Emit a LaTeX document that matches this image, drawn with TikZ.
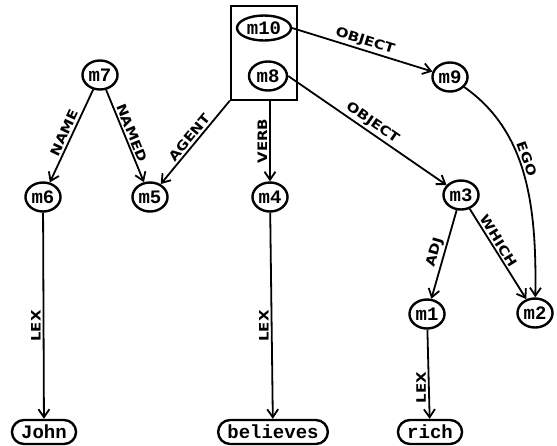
\documentclass[tikz,border=0pt]{standalone}
\usepackage{fontspec}
\newfontfamily\mono{Liberation Mono}
\newfontfamily\hand[FakeStretch=1.15]{DejaVu Sans}
\usetikzlibrary{shapes.geometric,shapes.misc,arrows.meta,fit}
\tikzset{
  mnode/.style={ellipse, draw, line width=2.4pt, inner sep=1pt, minimum width=33pt, minimum height=29pt, font=\mono\bfseries\fontsize{19}{19}\selectfont},
  wnode/.style={rounded rectangle, draw, line width=2.4pt, inner xsep=7pt, inner ysep=2pt, minimum height=24pt, font=\mono\bfseries\fontsize{19}{19}\selectfont},
  rel/.style={line width=1.8pt, -{Straight Barb[length=8pt,width=11pt]}},
  lbl/.style={font=\hand\bfseries\fontsize{13}{13}\selectfont, sloped, above, inner sep=2pt},
  vlbl/.style={font=\hand\bfseries\fontsize{13}{13}\selectfont, rotate=90, above, inner sep=2pt}
}
\begin{document}
\begin{tikzpicture}[x=1pt, y=-1pt]
  \useasboundingbox (0,0) rectangle (557,445);
  \node[mnode, minimum width=54pt, minimum height=25pt] (m10) at (264,28) {m10};
  \node[mnode, minimum width=38pt] (m8) at (268,76) {m8};
  \node[draw, line width=2pt, fit=(m10)(m8), inner xsep=5pt, inner ysep=8pt] (box) {};
  \node[mnode] (m9) at (450,77) {m9};
  \node[mnode] (m7) at (100,75) {m7};
  \node[mnode] (m6) at (43,197) {m6};
  \node[mnode] (m5) at (150,197) {m5};
  \node[mnode] (m4) at (270,197) {m4};
  \node[mnode] (m3) at (461,195) {m3};
  \node[mnode] (m1) at (427,314) {m1};
  \node[mnode] (m2) at (535,313) {m2};
  \node[wnode] (John) at (44,432) {John};
  \node[wnode] (believes) at (273,432) {believes};
  \node[wnode] (rich) at (430,432) {rich};
  \draw[rel] (m10.east) -- node[lbl] {OBJECT} (m9);
  \draw[rel] (m8.east) -- node[lbl] {OBJECT} (m3);
  \draw[rel] (box.south west) -- node[lbl] {AGENT} (m5);
  \draw[rel] (box.south -| m4) -- node[vlbl] {VERB} (m4);
  \draw[rel] (m7) -- node[lbl] {NAME} (m6);
  \draw[rel] (m7) -- node[lbl] {NAMED} (m5);
  \draw[rel] (m9) .. controls (525,130) and (537,200) .. node[lbl, pos=0.45] {EGO} (m2);
  \draw[rel] (m3) -- node[lbl] {ADJ} (m1);
  \draw[rel] (m3) -- node[lbl, pos=0.4] {WHICH} (m2);
  \draw[rel] (m6) -- node[vlbl, pos=0.55] {LEX} (John);
  \draw[rel] (m4) -- node[vlbl, pos=0.55] {LEX} (believes);
  \draw[rel] (m1) -- node[vlbl, pos=0.65] {LEX} (rich);
\end{tikzpicture}
\end{document}
